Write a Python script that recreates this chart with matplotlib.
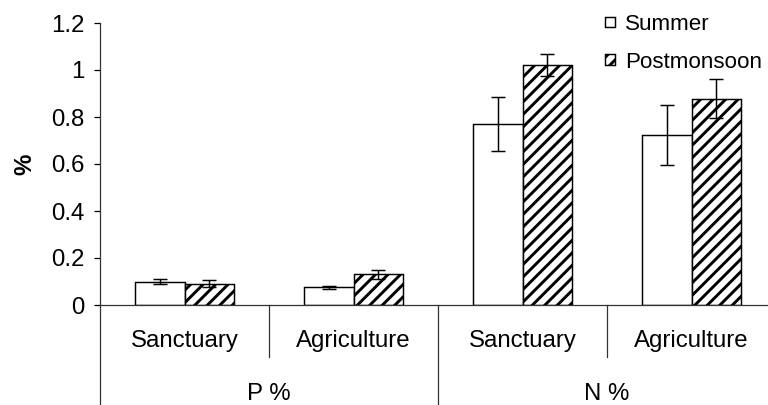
import matplotlib
matplotlib.use("Agg")
import matplotlib.pyplot as plt
import matplotlib.transforms as mtransforms
import numpy as np

plt.rcParams['font.family'] = ['Liberation Sans', 'DejaVu Sans']
plt.rcParams['hatch.linewidth'] = 2.8
plt.rcParams['hatch.color'] = 'black'

categories = ["Sanctuary", "Agriculture", "Sanctuary", "Agriculture"]
groups = ["P %", "N %"]
series_names = ["Summer", "Postmonsoon"]
summer = [0.10, 0.075, 0.77, 0.725]
summer_err = [0.01, 0.005, 0.113, 0.128]
post = [0.09, 0.13, 1.02, 0.877]
post_err = [0.015, 0.02, 0.047, 0.083]
yticks = [0, 0.2, 0.4, 0.6, 0.8, 1.0, 1.2]
ytick_labels = ["0", "0.2", "0.4", "0.6", "0.8", "1", "1.2"]

W, H, DPI = 768, 405, 75
fig = plt.figure(figsize=(W / DPI, H / DPI), dpi=DPI)
left, right, top, bottom = 100, 776, 23, 305
ax = fig.add_axes([left / W, (H - bottom) / H, (right - left) / W, (bottom - top) / H])

x = np.arange(len(categories))
bw = 0.29
fs = 23

ax.bar(x - bw / 2, summer, bw, color='white', edgecolor='black', linewidth=1.4,
       yerr=summer_err, error_kw=dict(ecolor='black', elinewidth=1.4, capsize=6.5, capthick=1.4),
       label=series_names[0], zorder=2)
ax.bar(x + bw / 2, post, bw, color='white', edgecolor='black', linewidth=1.4, hatch='//',
       yerr=post_err, error_kw=dict(ecolor='black', elinewidth=1.4, capsize=6.5, capthick=1.4),
       label=series_names[1], zorder=2)

ax.set_xlim(-0.5, len(categories) - 0.5)
ax.set_ylim(0, 1.2)
ax.set_yticks(yticks)
ax.set_yticklabels(ytick_labels, fontsize=fs)
ax.tick_params(axis='y', direction='out', length=6, width=1.2, pad=9)
ax.set_xticks([])
for s in ['top', 'right']:
    ax.spines[s].set_visible(False)
ax.spines['left'].set_linewidth(1.2)
ax.spines['bottom'].set_linewidth(1.2)
ax.spines['left'].set_color('#333333')
ax.spines['bottom'].set_color('#333333')

ax.set_ylabel("%", fontsize=fs, fontweight='bold', labelpad=14)

trans = mtransforms.blended_transform_factory(ax.transData, ax.transAxes)
short_y = (bottom - 357) / (bottom - top)
long_y = (bottom - 410) / (bottom - top)
bounds = np.arange(len(categories) + 1) - 0.5
for i, b in enumerate(bounds):
    y_end = long_y if i % 2 == 0 else short_y
    ax.plot([b, b], [0, y_end], transform=trans, color='#333333', lw=1.2, clip_on=False)

cat_y = (bottom - 341) / (bottom - top)
for xi, c in zip(x, categories):
    ax.text(xi, cat_y, c, transform=trans, ha='center', va='center', fontsize=fs)

grp_y = (bottom - 394) / (bottom - top)
for gi, g in enumerate(groups):
    ax.text(2 * gi + 0.5, grp_y, g, transform=trans, ha='center', va='center', fontsize=fs)

leg = ax.legend(loc='upper left', bbox_to_anchor=(605 / W, 1 - 14 / H),
                bbox_transform=fig.transFigure, frameon=False, fontsize=21.5,
                handlelength=0.45, handleheight=0.35, handletextpad=0.45,
                labelspacing=0.75, borderpad=0, borderaxespad=0)

fig.savefig("out.png", dpi=DPI)
